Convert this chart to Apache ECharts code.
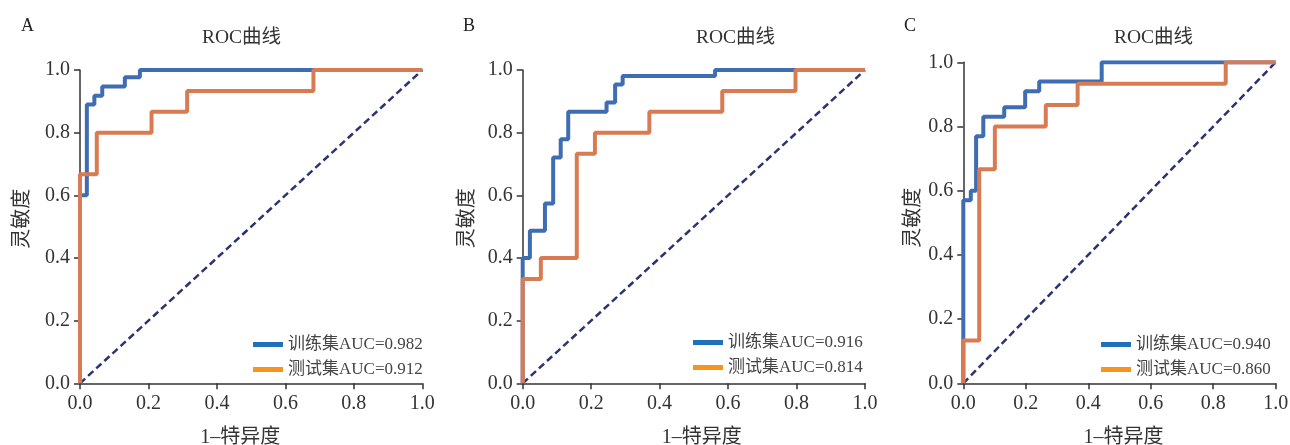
<!DOCTYPE html>
<html>
<head>
<meta charset="utf-8">
<script src="https://cdn.jsdelivr.net/npm/echarts@6/dist/echarts.min.js"></script>
<style>
html,body{margin:0;padding:0;background:#fff;}
#chart{width:1290px;height:445px;}
</style>
</head>
<body>
<div id="chart"></div>
<script>
// ---- data (ROC points: [1-specificity, sensitivity]) ----
const panelLetters = ['A', 'B', 'C'];
const titleText = 'ROC曲线';
const xName = '1–特异度';
const yName = '灵敏度';
const tickValues = [0, 0.2, 0.4, 0.6, 0.8, 1.0];

const trainNames = ['训练集AUC=0.982', '训练集AUC=0.916', '训练集AUC=0.940'];
const testNames  = ['测试集AUC=0.912', '测试集AUC=0.814', '测试集AUC=0.860'];

const trainA = [[0,0],[0,0.60],[0.020,0.89],[0.042,0.918],[0.065,0.947],[0.131,0.977],[0.175,1.0],[1,1]];
const testA  = [[0,0],[0,0.667],[0.049,0.80],[0.209,0.867],[0.313,0.933],[0.682,1.0],[1,1]];

const trainB = [[0,0],[0,0.40],[0.021,0.487],[0.065,0.574],[0.089,0.721],[0.111,0.779],[0.133,0.867],[0.245,0.896],[0.270,0.954],[0.292,0.981],[0.562,1.0],[1,1]];
const testB  = [[0,0],[0,0.333],[0.053,0.40],[0.158,0.733],[0.211,0.80],[0.370,0.867],[0.583,0.933],[0.797,1.0],[1,1]];

const trainC = [[0,0],[0,0.57],[0.024,0.60],[0.041,0.77],[0.064,0.83],[0.131,0.86],[0.198,0.91],[0.243,0.94],[0.443,1.0],[1,1]];
const testC  = [[0,0],[0,0.133],[0.051,0.667],[0.101,0.80],[0.264,0.867],[0.366,0.933],[0.840,1.0],[1,1]];

const diagonal = [[0,0],[1,1]];

const trainSets = [trainA, trainB, trainC];
const testSets = [testA, testB, testC];

// ---- layout / style ----
const FONT = "'Liberation Serif', 'Noto Sans CJK SC', serif";
const grids = [
  {left: 80, top: 70, width: 342.3, height: 313.3},
  {left: 522.7, top: 70, width: 342.3, height: 313.3},
  {left: 963.3, top: 62.3, width: 312.4, height: 321}
];
const titlePos = [197, 691, 1109];
const letterPos = [16, 458, 899];
const yNameGap = [47, 45, 40];
const yNamePad = [[0, 0, 0, 16], [0, 0, 0, 17], [0, 0, 0, 10]];
const xNamePad = [[0, 22, 0, 0], [0, 0, 0, 16], [0, 0, 0, 8]];
const legendPos = [{left: 248, top: 331}, {left: 688, top: 329}, {left: 1096, top: 331}];

const blueLine = '#3f6db3';
const orangeLine = '#d97b52';
const blueLegend = '#1f72b9';
const orangeLegend = '#f7941d';
const diagColor = '#2c3373';

const option = {
  backgroundColor: '#fff',
  animation: false,
  textStyle: {fontFamily: FONT},
  title: [],
  grid: [],
  xAxis: [],
  yAxis: [],
  legend: [],
  series: []
};

const fmt = v => v.toFixed(1);

for (let i = 0; i < 3; i++) {
  option.grid.push(Object.assign({containLabel: false, outerBoundsMode: 'none'}, grids[i]));
  option.title.push({
    text: titleText, left: titlePos[i], top: 23,
    textStyle: {fontFamily: FONT, fontSize: 19.5, fontWeight: 'normal', color: '#333'}
  });
  option.title.push({
    text: panelLetters[i], left: letterPos[i], top: 12,
    textStyle: {fontFamily: FONT, fontSize: 18, fontWeight: 'normal', color: '#222'}
  });
  const axisCommon = {
    type: 'value', min: 0, max: 1, interval: 0.2,
    gridIndex: i,
    axisLine: {show: true, lineStyle: {color: '#333', width: 1.5}},
    axisTick: {show: true, inside: false, length: 6, lineStyle: {color: '#333', width: 1.5}},
    splitLine: {show: false},
    axisLabel: {formatter: fmt, fontFamily: FONT, fontSize: 20, color: '#333', margin: 10},
    nameLocation: 'middle'
  };
  option.xAxis.push(Object.assign({}, axisCommon, {
    name: xName, nameGap: 44,
    nameTextStyle: {fontFamily: FONT, fontSize: 20, color: '#333', padding: xNamePad[i]}
  }));
  option.yAxis.push(Object.assign({}, axisCommon, {
    name: yName, nameGap: yNameGap[i], nameRotate: 90,
    nameTextStyle: {fontFamily: FONT, fontSize: 20, color: '#333', padding: yNamePad[i]}
  }));

  option.legend.push({
    show: true,
    data: [trainNames[i], testNames[i]],
    left: legendPos[i].left, top: legendPos[i].top,
    orient: 'vertical',
    icon: 'rect',
    itemWidth: 30, itemHeight: 5, itemGap: 8,
    selectedMode: false,
    textStyle: {fontFamily: FONT, fontSize: 17, color: '#444'}
  });

  option.series.push({
    type: 'line', name: '', xAxisIndex: i, yAxisIndex: i,
    data: diagonal, showSymbol: false, silent: true, z: 1,
    lineStyle: {color: diagColor, width: 2.5, type: [7, 4]}
  });
  option.series.push({
    type: 'line', name: trainNames[i], xAxisIndex: i, yAxisIndex: i,
    data: trainSets[i], step: 'end', showSymbol: false, z: 2,
    itemStyle: {color: blueLegend},
    lineStyle: {color: blueLine, width: 4}
  });
  option.series.push({
    type: 'line', name: testNames[i], xAxisIndex: i, yAxisIndex: i,
    data: testSets[i], step: 'end', showSymbol: false, z: 3,
    itemStyle: {color: orangeLegend},
    lineStyle: {color: orangeLine, width: 4}
  });
}

const chart = echarts.init(document.getElementById('chart'), null, {renderer: 'canvas'});
chart.setOption(option);
</script>
</body>
</html>
